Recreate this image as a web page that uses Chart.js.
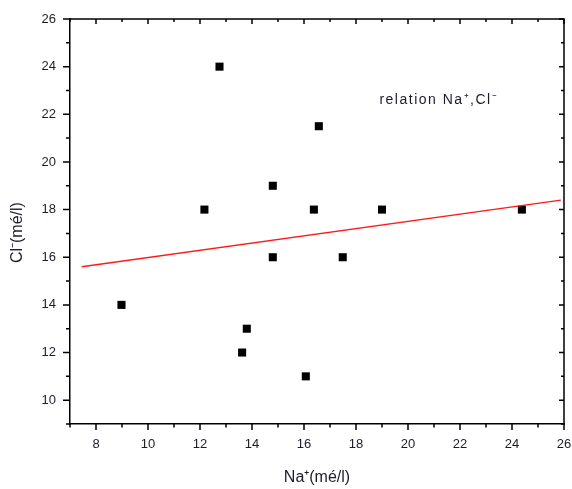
<!DOCTYPE html>
<html>
<head>
<meta charset="utf-8">
<title>relation Na+, Cl-</title>
<script src="https://cdn.jsdelivr.net/npm/chart.js@4"></script>
<style>
    html, body { margin: 0; padding: 0; background: #fff; }
    #wrap { width: 572px; height: 489px; }
</style>
</head>
<body>
<div id="wrap"><canvas id="naClChart" width="572" height="489"></canvas></div>
<script>
// Na+ vs Cl- (mé/l)
const naValues = [8.98, 12.17, 12.75, 13.62, 13.8, 14.8, 14.8, 16.07, 16.38, 16.57, 17.49, 19.0, 24.38];
const clValues = [14, 18, 24, 12, 13, 19, 16, 11, 18, 21.5, 16, 18, 18];

// linear fit, end points as drawn
const fitNa = [7.45, 25.88];
const fitCl = [15.6, 18.4];

const xTicks = [8, 10, 12, 14, 16, 18, 20, 22, 24, 26];
const yTicks = [10, 12, 14, 16, 18, 20, 22, 24, 26];

const xTitle = 'Na⁺(mé/l)';
const yTitle = 'Cl⁻(mé/l)';
const noteText = 'relation Na⁺,Cl⁻';

const textColor = '#1c1c2c';
const axisFont = "'Liberation Sans', Arial, sans-serif";

// Origin style frame: outward ticks left/bottom, inward ticks top/right
const frameTicks = {
    id: 'frameTicks',
    afterDraw(chart) {
        const ctx = chart.ctx;
        const xs = chart.scales.x;
        const ys = chart.scales.y;
        const area = chart.chartArea;
        ctx.save();
        ctx.strokeStyle = '#000';
        ctx.lineWidth = 1.5;

        // top and right frame lines
        ctx.beginPath();
        ctx.moveTo(area.left, area.top);
        ctx.lineTo(area.right, area.top);
        ctx.lineTo(area.right, area.bottom);
        ctx.stroke();

        ctx.beginPath();
        for (let v = xs.min; v <= xs.max; v++) {
            const px = xs.getPixelForValue(v);
            const major = xTicks.includes(v);
            ctx.moveTo(px, area.bottom);
            ctx.lineTo(px, area.bottom + (major ? 6 : 3.5));
            ctx.moveTo(px, area.top);
            ctx.lineTo(px, area.top + (major ? 5 : 3));
        }
        for (let v = ys.min; v <= ys.max; v++) {
            const py = ys.getPixelForValue(v);
            const major = yTicks.includes(v);
            ctx.moveTo(area.left, py);
            ctx.lineTo(area.left - (major ? 7 : 4), py);
            ctx.moveTo(area.right, py);
            ctx.lineTo(area.right - (major ? 5 : 3), py);
        }
        ctx.stroke();

        // text note inside the plot (Origin spaces its letters out)
        ctx.fillStyle = textColor;
        ctx.font = '14px ' + axisFont;
        ctx.letterSpacing = '1.5px';
        ctx.textBaseline = 'middle';
        ctx.textAlign = 'left';
        ctx.fillText(noteText, xs.getPixelForValue(18.9), ys.getPixelForValue(22.6));
        ctx.restore();
    }
};

document.addEventListener('DOMContentLoaded', function() {
    const canvas = document.getElementById('naClChart');

    const points = naValues.map((x, i) => ({ x: x, y: clValues[i] }));
    const fitLine = fitNa.map((x, i) => ({ x: x, y: fitCl[i] }));

    new Chart(canvas, {
        type: 'scatter',
        data: {
            datasets: [
                {
                    label: 'fit',
                    data: fitLine,
                    showLine: true,
                    borderColor: '#ff1a1a',
                    borderWidth: 1.3,
                    pointRadius: 0,
                    order: 1
                },
                {
                    label: 'Na-Cl',
                    data: points,
                    pointStyle: 'rect',
                    pointRadius: 5.7,
                    pointBackgroundColor: '#000',
                    pointBorderWidth: 0,
                    order: 2
                }
            ]
        },
        options: {
            responsive: false,
            animation: false,
            layout: {
                padding: { left: 0, top: 19, right: 8, bottom: 0 }
            },
            plugins: {
                legend: { display: false },
                tooltip: { enabled: false }
            },
            scales: {
                x: {
                    type: 'linear',
                    min: 7,
                    max: 26,
                    afterFit: function(scale) {
                        scale.height = 65;
                        scale.paddingLeft = 0;
                        scale.paddingRight = 0;
                    },
                    grid: { display: false, drawTicks: false },
                    border: { display: true, color: '#000', width: 1.5 },
                    ticks: {
                        stepSize: 1,
                        autoSkip: false,
                        maxRotation: 0,
                        padding: 13,
                        color: textColor,
                        font: { size: 13, family: axisFont },
                        callback: function(value) {
                            return xTicks.includes(value) ? value : '';
                        }
                    },
                    title: {
                        display: true,
                        text: xTitle,
                        color: textColor,
                        font: { size: 16, family: axisFont },
                        padding: { top: 0, bottom: 2 }
                    }
                },
                y: {
                    type: 'linear',
                    min: 9,
                    max: 26,
                    afterFit: function(scale) {
                        scale.width = 70;
                        scale.paddingTop = 0;
                        scale.paddingBottom = 0;
                    },
                    grid: { display: false, drawTicks: false },
                    border: { display: true, color: '#000', width: 1.5 },
                    ticks: {
                        stepSize: 1,
                        autoSkip: false,
                        padding: 14,
                        color: textColor,
                        font: { size: 13, family: axisFont },
                        callback: function(value) {
                            return yTicks.includes(value) ? value : '';
                        }
                    },
                    title: {
                        display: true,
                        text: yTitle + '\u00a0\u00a0\u00a0\u00a0\u00a0',
                        color: textColor,
                        font: { size: 16, family: axisFont },
                        padding: { top: 8, bottom: 0 }
                    }
                }
            }
        },
        plugins: [frameTicks]
    });
});
</script>
</body>
</html>
